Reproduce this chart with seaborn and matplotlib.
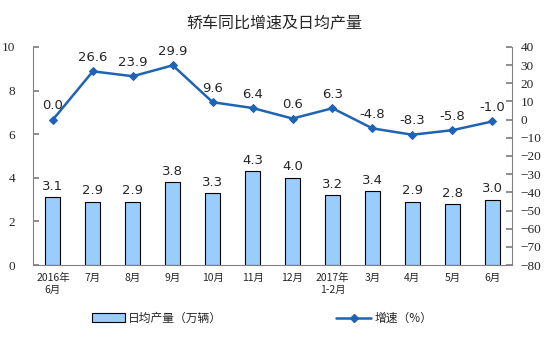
import matplotlib
matplotlib.use("Agg")
import matplotlib.pyplot as plt
import seaborn as sns
import pandas as pd
import numpy as np
from matplotlib.lines import Line2D
from matplotlib.patches import Patch

categories = ["2016年\n6月", "7月", "8月", "9月", "10月", "11月", "12月",
              "2017年\n1-2月", "3月", "4月", "5月", "6月"]
daily_output = [3.1, 2.9, 2.9, 3.8, 3.3, 4.3, 4.0, 3.2, 3.4, 2.9, 2.8, 3.0]
growth = [0.0, 26.6, 23.9, 29.9, 9.6, 6.4, 0.6, 6.3, -4.8, -8.3, -5.8, -1.0]
left_ticks = [0, 2, 4, 6, 8, 10]
right_ticks = list(range(-80, 41, 10))

sns.set_theme(style="white")
plt.rcParams['font.family'] = ['Noto Sans CJK SC', 'DejaVu Sans']

df = pd.DataFrame({"cat": categories, "out": daily_output, "g": growth})
x = np.arange(len(categories))

fig = plt.figure(figsize=(5.49, 3.37), dpi=100)
ax = fig.add_axes([0.060, 0.2136, 0.873, 0.647])
sns.barplot(data=df, x="cat", y="out", ax=ax, color="#99CCFF", edgecolor="black",
            linewidth=0.8, width=0.38, saturation=1)
ax.set_ylim(0, 10)
ax.set_xlim(-0.5, len(categories) - 0.5)
ax.set_yticks(left_ticks)
ax.set_xlabel("")
ax.set_ylabel("")
ax.set_xticks(x)
ax.set_xticklabels(categories, fontsize=7.5)
ax.tick_params(axis="x", length=0, pad=6)
ax.set_xticks(np.arange(-0.5, len(categories), 1), minor=True)
ax.tick_params(axis="x", which="minor", length=4, direction="out", color="#808080")
ax.tick_params(axis="y", direction="in", length=4, color="#808080", pad=13,
               labelsize=9.5, labelfontfamily="Liberation Serif")
for sp in ["left", "bottom"]:
    ax.spines[sp].set_color("#808080")
    ax.spines[sp].set_linewidth(0.8)
ax.spines["top"].set_visible(False)
ax.spines["right"].set_visible(False)

for xi, v in zip(x, daily_output):
    ax.text(xi, v + 0.2, f"{v:.1f}", ha="center", va="bottom", fontsize=9.5,
            family="DejaVu Sans")

ax2 = ax.twinx()
sns.lineplot(x=x, y=growth, ax=ax2, color="#1F63B4", marker="D", markersize=4.5,
             markeredgecolor="#1F63B4", linewidth=1.8)
ax2.set_ylim(-80, 40)
ax2.set_yticks(right_ticks)
ax2.tick_params(axis="y", direction="in", length=4, color="#808080", pad=6,
                labelsize=9.5, labelfontfamily="Liberation Serif")
ax2.spines["right"].set_color("#808080")
ax2.spines["right"].set_linewidth(0.8)
for sp in ["top", "left", "bottom"]:
    ax2.spines[sp].set_visible(False)
ax2.set_xlim(-0.5, len(categories) - 0.5)

for xi, v in zip(x, growth):
    ax2.text(xi, v + 4, f"{v:.1f}", ha="center", va="bottom", fontsize=9.5,
             family="DejaVu Sans")

fig.suptitle("轿车同比增速及日均产量", y=0.955, fontsize=11.5)

h1 = Patch(facecolor="#99CCFF", edgecolor="black", linewidth=0.8)
h2 = Line2D([0], [0], color="#1F63B4", marker="D", markersize=4.5, linewidth=1.8)
fig.legend([h1], ["日均产量（万辆）"], loc="center", bbox_to_anchor=(0.286, 0.055),
           frameon=False, fontsize=8.5, handlelength=2.8, handleheight=0.8, handletextpad=0.3)
fig.legend([h2], ["增速（%）"], loc="center", bbox_to_anchor=(0.70, 0.055),
           frameon=False, fontsize=8.5, handlelength=3, handletextpad=0.3)

fig.savefig("out.png", dpi=100)
